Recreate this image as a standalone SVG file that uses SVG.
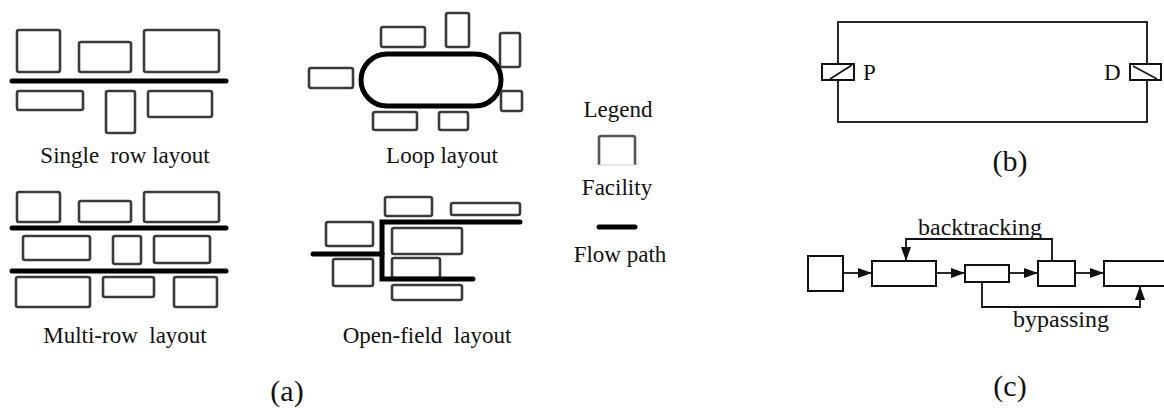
<svg xmlns="http://www.w3.org/2000/svg" width="1164" height="410" viewBox="0 0 1164 410">
<style>
.fac{fill:none;stroke:#3a3a3a;stroke-width:2.6}
.flow{fill:none;stroke:#000;stroke-width:5;stroke-linecap:round}
.t{font-family:"Liberation Serif","Times New Roman",serif;font-size:23px;fill:#111;text-anchor:middle;white-space:pre}
.lbl{font-size:24px}
.cap{font-size:30px}
.thin{fill:none;stroke:#111;stroke-width:1.8}
.box{fill:#fff;stroke:#111;stroke-width:2}
</style>
<defs>
<marker id="ah" viewBox="0 0 14 10" refX="14" refY="5" markerWidth="14" markerHeight="10" markerUnits="userSpaceOnUse" orient="auto">
<path d="M0,0 L14,5 L0,10 Z" fill="#111"/>
</marker>
</defs>
<rect width="1164" height="410" fill="#fff"/>

<g id="single-row">
<rect class="fac" x="17" y="30" width="43" height="42" rx="2"/>
<rect class="fac" x="79" y="42" width="52" height="30" rx="2"/>
<rect class="fac" x="144" y="30" width="75" height="42" rx="2"/>
<line class="flow" x1="12" y1="81" x2="226" y2="81"/>
<rect class="fac" x="17" y="91" width="66" height="19" rx="2"/>
<rect class="fac" x="106" y="91" width="29" height="42" rx="2"/>
<rect class="fac" x="148" y="91" width="64" height="26" rx="2"/>
<text class="t" x="125" y="163" xml:space="preserve">Single  row layout</text>
</g>

<g id="multi-row">
<rect class="fac" x="17" y="192" width="43" height="30" rx="2"/>
<rect class="fac" x="79" y="201" width="52" height="21" rx="2"/>
<rect class="fac" x="144" y="192" width="75" height="30" rx="2"/>
<line class="flow" x1="12" y1="228" x2="226" y2="228"/>
<rect class="fac" x="23" y="236" width="67" height="24" rx="2"/>
<rect class="fac" x="113" y="236" width="28" height="28" rx="2"/>
<rect class="fac" x="154" y="236" width="56" height="27" rx="2"/>
<line class="flow" x1="12" y1="271" x2="226" y2="271"/>
<rect class="fac" x="16" y="277" width="74" height="30" rx="2"/>
<rect class="fac" x="103" y="277" width="51" height="20" rx="2"/>
<rect class="fac" x="174" y="277" width="43" height="30" rx="2"/>
<text class="t" x="125" y="343" xml:space="preserve">Multi-row  layout</text>
</g>

<g id="loop">
<rect class="fac" x="381" y="27" width="44" height="20" rx="2"/>
<rect class="fac" x="446" y="13" width="23" height="34" rx="2"/>
<rect class="fac" x="500" y="33" width="20" height="34" rx="2"/>
<rect class="fac" x="309" y="68" width="44" height="20" rx="2"/>
<rect x="361" y="54" width="140" height="52" rx="26" fill="none" stroke="#000" stroke-width="5"/>
<rect class="fac" x="501" y="91" width="21" height="20" rx="2"/>
<rect class="fac" x="373" y="112" width="44" height="18" rx="2"/>
<rect class="fac" x="439" y="112" width="29" height="18" rx="2"/>
<text class="t" x="442" y="163">Loop layout</text>
</g>

<g id="open-field">
<rect class="fac" x="385" y="197" width="47" height="19" rx="2"/>
<rect class="fac" x="451" y="203" width="69" height="12" rx="2"/>
<rect class="fac" x="326" y="222" width="47" height="24" rx="2"/>
<rect class="fac" x="333" y="259" width="40" height="27" rx="2"/>
<rect class="fac" x="392" y="228" width="70" height="26" rx="2"/>
<rect class="fac" x="392" y="258" width="48" height="20" rx="2"/>
<rect class="fac" x="392" y="285" width="70" height="15" rx="2"/>
<path class="flow" d="M520,222 H382 V279 H473"/>
<line class="flow" x1="313" y1="254" x2="382" y2="254"/>
<text class="t" x="427" y="343" xml:space="preserve">Open-field  layout</text>
</g>

<g id="legend">
<text class="t" x="618" y="117">Legend</text>
<path d="M599,165 V138 Q599,136 601,136 H633 Q635,136 635,138 V165" fill="none" stroke="#555" stroke-width="2.6"/>
<line x1="599" y1="165" x2="635" y2="165" stroke="#ddd" stroke-width="1.5"/>
<text class="t" x="617" y="195">Facility</text>
<line class="flow" x1="599" y1="227" x2="635" y2="227"/>
<text class="t" x="620" y="262">Flow path</text>
</g>

<g id="panel-b">
<rect class="thin" x="838" y="22" width="309" height="100"/>
<g id="P">
<rect class="box" x="822" y="64" width="32" height="16"/>
<line x1="830" y1="79" x2="852" y2="65" stroke="#111" stroke-width="1.5"/>
<text x="863" y="80" font-family="Liberation Serif, serif" font-size="23" fill="#111">P</text>
</g>
<g id="D">
<rect class="box" x="1130" y="64" width="31" height="16"/>
<line x1="1133" y1="66" x2="1157" y2="79" stroke="#111" stroke-width="1.5"/>
<text x="1104" y="80" font-family="Liberation Serif, serif" font-size="23" fill="#111">D</text>
</g>
<text class="t cap" x="1010" y="171">(b)</text>
</g>

<g id="panel-c">
<g id="n1"><rect class="box" x="808" y="256" width="35" height="35"/></g>
<g id="n2"><rect class="box" x="872" y="261" width="64" height="25"/></g>
<g id="n3"><rect class="box" x="965" y="265" width="44" height="17"/></g>
<g id="n4"><rect class="box" x="1038" y="261" width="37" height="25"/></g>
<g id="n5"><rect class="box" x="1104" y="261" width="70" height="25"/></g>
<g id="connectors">
<line class="thin" x1="843" y1="273" x2="872" y2="273" marker-end="url(#ah)"/>
<line class="thin" x1="936" y1="273" x2="965" y2="273" marker-end="url(#ah)"/>
<line class="thin" x1="1009" y1="273" x2="1038" y2="273" marker-end="url(#ah)"/>
<line class="thin" x1="1075" y1="273" x2="1104" y2="273" marker-end="url(#ah)"/>
<path class="thin" d="M1052,261 V239 H906 V261" marker-end="url(#ah)"/>
<path class="thin" d="M982,282 V307 H1140 V286" marker-end="url(#ah)"/>
</g>
<text class="t lbl" x="980" y="235">backtracking</text>
<text class="t lbl" x="1061" y="327">bypassing</text>
<text class="t cap" x="1010" y="396">(c)</text>
</g>

<text class="t cap" x="287" y="401">(a)</text>
</svg>
